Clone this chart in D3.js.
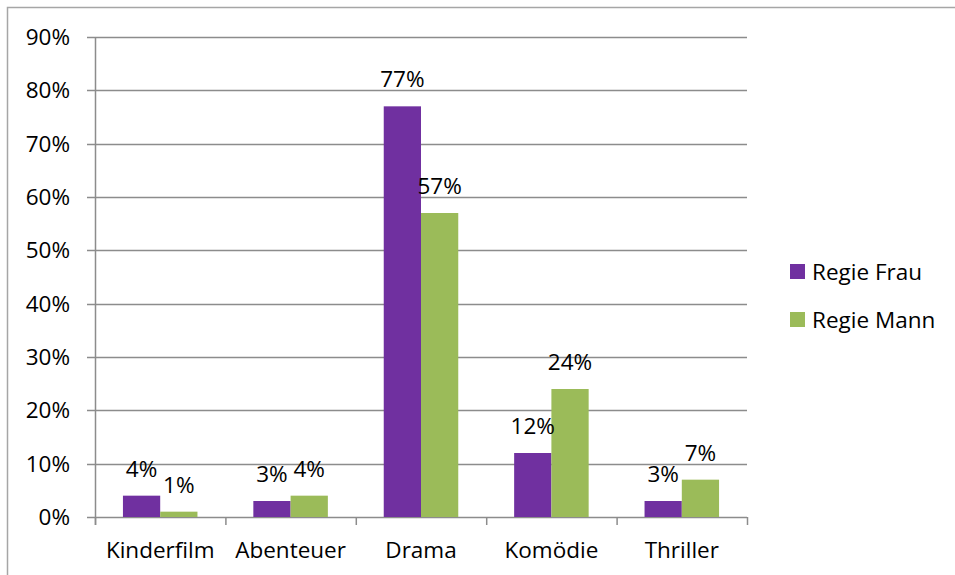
<!DOCTYPE html>
<html lang="de">
<head>
<meta charset="utf-8">
<title>Genre nach Regie</title>
<script src="https://d3js.org/d3.v7.min.js"></script>
<style>
  html, body { margin: 0; padding: 0; background: #fff; }
  svg text { font-family: "Open Sans", Lato, sans-serif; fill: #000; }
</style>
</head>
<body>
<svg id="chart" width="955" height="575"></svg>
<script>
// data
var categories = ["Kinderfilm", "Abenteuer", "Drama", "Komödie", "Thriller"];
var seriesNames = ["Regie Frau", "Regie Mann"];
var frau = [4, 3, 77, 12, 3];
var mann = [1, 4, 57, 24, 7];
var yTicks = [0, 10, 20, 30, 40, 50, 60, 70, 80, 90];
var colors = ["#7030A0", "#9BBB59"];

var svg = d3.select("#chart");
var plotL = 95, plotR = 747, plotT = 37, plotB = 517;
var fs = "22.5px";

// outer frame
svg.append("rect")
    .attr("x", 7.5).attr("y", 7.5)
    .attr("width", 960).attr("height", 580)
    .attr("fill", "none").attr("stroke", "#a6a6a6").attr("stroke-width", 1.5);

var x = d3.scaleBand().domain(categories).range([plotL, plotR]);
var inner = d3.scaleBand().domain(seriesNames).range([0, x.bandwidth()]).paddingOuter(0.75).paddingInner(0);
var y = d3.scaleLinear().domain([0, 90]).range([plotB, plotT]);

// gridlines
svg.append("g").selectAll("line")
    .data(yTicks)
    .enter().append("line")
    .attr("x1", plotL - 8).attr("x2", plotR)
    .attr("y1", function(d) { return Math.round(y(d)) + 0.5; })
    .attr("y2", function(d) { return Math.round(y(d)) + 0.5; })
    .attr("stroke", "#8c8c8c").attr("stroke-width", 1.5);

// y labels
svg.append("g").selectAll("text")
    .data(yTicks)
    .enter().append("text")
    .attr("x", 70)
    .attr("y", function(d) { return y(d); })
    .attr("dy", "0.36em")
    .attr("text-anchor", "end")
    .style("font-size", fs)
    .text(function(d) { return d + "%"; });

// bars
var rows = categories.map(function(c, i) { return { cat: c, vals: [frau[i], mann[i]] }; });
var groups = svg.append("g").selectAll("g")
    .data(rows)
    .enter().append("g")
    .attr("transform", function(d) { return "translate(" + x(d.cat) + ",0)"; });

function pairs(d) {
    return d.vals.map(function(v, j) { return { name: seriesNames[j], v: v, j: j }; });
}

groups.selectAll("rect")
    .data(pairs)
    .enter().append("rect")
    .attr("x", function(d) { return inner(d.name); })
    .attr("width", inner.bandwidth())
    .attr("y", function(d) { return y(d.v); })
    .attr("height", function(d) { return plotB - y(d.v); })
    .attr("fill", function(d) { return colors[d.j]; });

groups.selectAll("text")
    .data(pairs)
    .enter().append("text")
    .attr("x", function(d) { return inner(d.name) + inner.bandwidth() / 2; })
    .attr("y", function(d) { return y(d.v) - 19; })
    .attr("text-anchor", "middle")
    .style("font-size", fs)
    .text(function(d) { return d.v + "%"; });

// axis lines
svg.append("line")
    .attr("x1", plotL + 0.5).attr("x2", plotL + 0.5)
    .attr("y1", plotT).attr("y2", plotB + 8)
    .attr("stroke", "#8c8c8c").attr("stroke-width", 1.5);

svg.append("g").selectAll("line")
    .data(d3.range(categories.length + 1))
    .enter().append("line")
    .attr("x1", function(i) { return plotL + i * x.bandwidth() + 0.5; })
    .attr("x2", function(i) { return plotL + i * x.bandwidth() + 0.5; })
    .attr("y1", plotB).attr("y2", plotB + 8)
    .attr("stroke", "#8c8c8c").attr("stroke-width", 1.5);

// category labels
svg.append("g").selectAll("text")
    .data(categories)
    .enter().append("text")
    .attr("x", function(d) { return x(d) + x.bandwidth() / 2; })
    .attr("y", 558)
    .attr("text-anchor", "middle")
    .style("font-size", fs)
    .text(function(d) { return d; });

// legend
var legend = svg.append("g").selectAll("g")
    .data(seriesNames)
    .enter().append("g")
    .attr("transform", function(d, i) { return "translate(790," + (264 + i * 48) + ")"; });

legend.append("rect")
    .attr("width", 15).attr("height", 15)
    .attr("fill", function(d, i) { return colors[i]; });

legend.append("text")
    .attr("x", 22).attr("y", 7.5)
    .attr("dy", "0.36em")
    .style("font-size", fs)
    .text(function(d) { return d; });
</script>
</body>
</html>
